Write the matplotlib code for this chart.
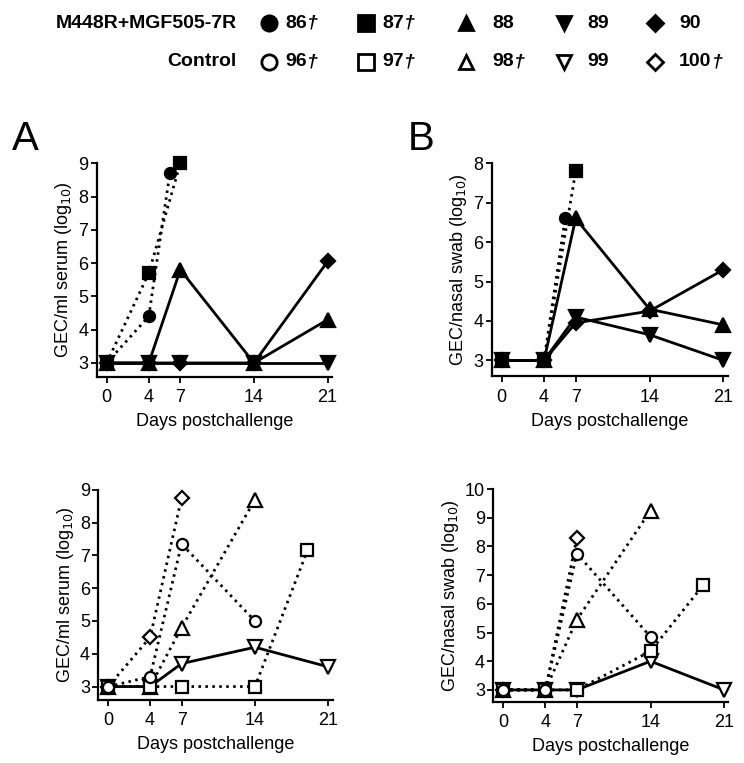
import matplotlib
matplotlib.use("Agg")
import matplotlib.pyplot as plt

plt.rcParams['font.family'] = ['Liberation Sans', 'DejaVu Sans']

# ---------------- data ----------------
xticks = [0, 4, 7, 14, 21]

vacc_nums = ["86", "87", "88", "89", "90"]
ctrl_nums = ["96", "97", "98", "99", "100"]
markers = ["o", "s", "^", "v", "D"]
vacc_died = [True, True, False, False, False]
ctrl_died = [True, True, True, False, True]

# Panel A: serum, M448R+MGF505-7R
A_days = [[0, 4, 6], [0, 4, 7], [0, 4, 7, 14, 21], [0, 4, 7, 14, 21], [0, 4, 7, 14, 21]]
A_vals = [[3, 4.4, 8.7], [3, 5.7, 9.0], [3, 3, 5.8, 3, 4.3], [3, 3, 3, 3, 3], [3, 3, 3, 3, 6.05]]

# Panel B: nasal swab, M448R+MGF505-7R
B_days = [[0, 4, 6], [0, 4, 7], [0, 4, 7, 14, 21], [0, 4, 7, 14, 21], [0, 4, 7, 14, 21]]
B_vals = [[3, 3, 6.6], [3, 3, 7.8], [3, 3, 6.6, 4.3, 3.9], [3, 3, 4.1, 3.65, 3.0], [3, 3, 3.95, 4.25, 5.3]]

# Panel C: serum, Control
C_days = [[0, 4, 7, 14], [0, 4, 7, 14, 19], [0, 4, 7, 14], [0, 4, 7, 14, 21], [0, 4, 7]]
C_vals = [[3, 3.3, 7.35, 5.0], [3, 3, 3, 3, 7.15], [3, 3, 4.8, 8.7], [3, 3, 3.7, 4.2, 3.6], [3, 4.5, 8.75]]

# Panel D: nasal swab, Control
D_days = [[0, 4, 7, 14], [0, 4, 7, 14, 19], [0, 4, 7, 14], [0, 4, 7, 14, 21], [0, 4, 7]]
D_vals = [[3, 3, 7.75, 4.85], [3, 3, 3, 4.35, 6.65], [3, 3, 5.45, 9.25], [3, 3, 3, 4.0, 3.0], [3, 3, 8.3]]

serum_label = r"GEC/ml serum (log$_{10}$)"
nasal_label = r"GEC/nasal swab (log$_{10}$)"
xlabel = "Days postchallenge"
group_names = ["M448R+MGF505-7R", "Control"]

# ---------------- figure ----------------
fig = plt.figure(figsize=(7.44, 7.63), dpi=100)

msizes = {"o": 8, "s": 8, "^": 9.5, "v": 9.5, "D": 7}
leg_msizes = {"o": 11, "s": 11.5, "^": 10.5, "v": 10.5, "D": 8.5}
dot_style = (0, (0.9, 1.6))


def draw_panel(rect, days, vals, died, filled, ylabel, yticks, ylim):
    ax = fig.add_axes(rect)
    order = [3, 4, 2, 1, 0]
    for i in order:
        ls = dot_style if died[i] else "-"
        ax.plot(days[i], vals[i], linestyle=ls, color="black", lw=2.0,
                marker=markers[i], ms=msizes[markers[i]],
                mfc="black" if filled else "white", mec="black", mew=1.6,
                clip_on=False, zorder=3)
    ax.set_xlim(-0.95, 21.4)
    ax.set_ylim(*ylim)
    ax.set_xticks(xticks)
    ax.set_yticks(yticks)
    for s in ["top", "right"]:
        ax.spines[s].set_visible(False)
    for s in ["left", "bottom"]:
        ax.spines[s].set_linewidth(1.6)
    ax.spines["left"].set_bounds(ylim[0], yticks[-1])
    ax.tick_params(axis="both", direction="out", length=4, width=1.3, labelsize=13, pad=2)
    ax.tick_params(axis="x", pad=5)
    ax.set_xlabel(xlabel, fontsize=13, labelpad=5)
    ax.set_ylabel(ylabel, fontsize=13, labelpad=3)
    return ax


draw_panel([0.130, 0.506, 0.316, 0.280], A_days, A_vals, vacc_died, True,
           serum_label, [3, 4, 5, 6, 7, 8, 9], (2.58, 9.0))
draw_panel([0.661, 0.507, 0.317, 0.279], B_days, B_vals, vacc_died, True,
           nasal_label, [3, 4, 5, 6, 7, 8], (2.6, 8.0))
draw_panel([0.132, 0.083, 0.315, 0.275], C_days, C_vals, ctrl_died, False,
           serum_label, [3, 4, 5, 6, 7, 8, 9], (2.6, 9.0))
draw_panel([0.663, 0.080, 0.316, 0.279], D_days, D_vals, ctrl_died, False,
           nasal_label, [3, 4, 5, 6, 7, 8, 9, 10], (2.58, 10.0))

# panel letters
fig.text(12 / 744, 1 - 150 / 763, "A", fontsize=29, ha="left", va="baseline")
fig.text(408 / 744, 1 - 150 / 763, "B", fontsize=29, ha="left", va="baseline")

# ---------------- legend header ----------------
row_y = [1 - 23 / 763, 1 - 62 / 763]
marker_x = [269, 366, 466, 564, 655]
label_x = [285, 382, 492, 587, 679]
renderer = fig.canvas.get_renderer()
for r, (gname, nums, died, filled) in enumerate(zip(group_names, [vacc_nums, ctrl_nums],
                                                    [vacc_died, ctrl_died], [True, False])):
    fig.text(237 / 744, row_y[r], gname, fontsize=14, fontweight="bold",
             ha="right", va="center")
    for j in range(5):
        fig.lines.append(plt.Line2D([marker_x[j] / 744], [row_y[r]], transform=fig.transFigure,
                                    marker=markers[j], ms=leg_msizes[markers[j]],
                                    mfc="black" if filled else "white",
                                    mec="black", mew=2.0, linestyle="none"))
        t = fig.text(label_x[j] / 744, row_y[r], nums[j], fontsize=14, fontweight="bold",
                     ha="left", va="center")
        if died[j]:
            bb = t.get_window_extent(renderer=renderer)
            fig.text((bb.x1 + 0.5) / 744, row_y[r], "\u2020", fontsize=14, fontweight="bold",
                     fontstyle="italic", ha="left", va="center")

fig.savefig("out.png", dpi=100)
